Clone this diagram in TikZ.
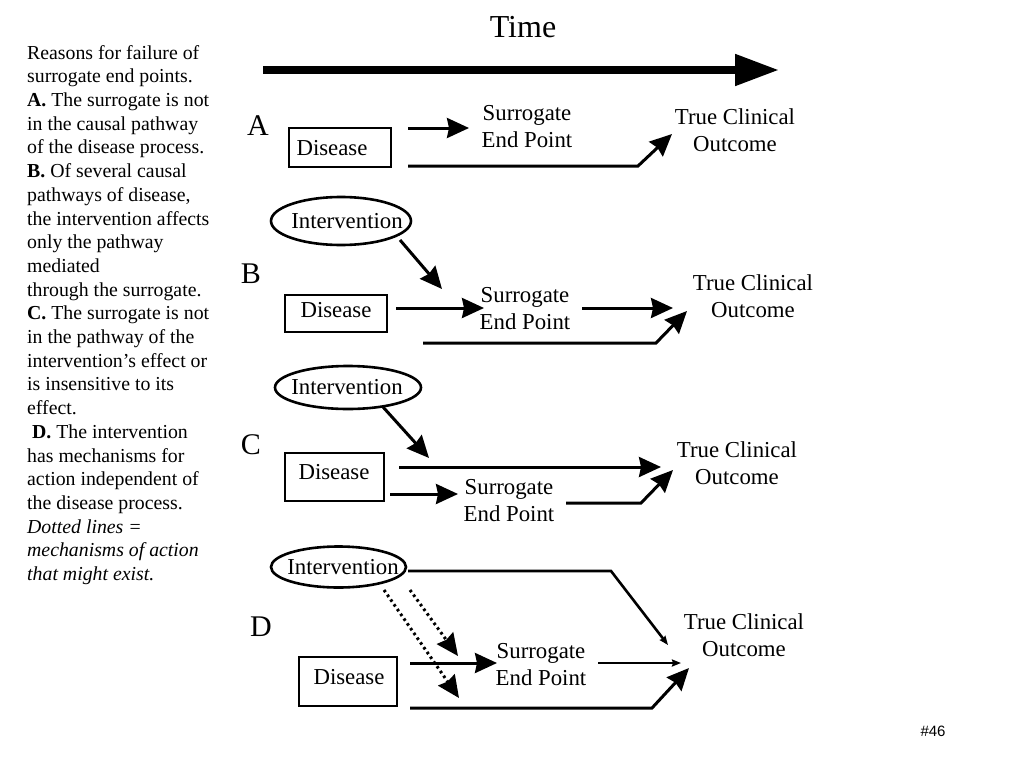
\documentclass[tikz,border=0pt]{standalone}
\usepackage{fontspec}
\setmainfont{Liberation Serif}
\newfontfamily\sansf{Liberation Sans}
\usetikzlibrary{arrows.meta,shapes.geometric}
\begin{document}
\begin{tikzpicture}[x=1pt,y=-1pt,
  lbl/.style={font=\fontsize{22.8}{27}\selectfont, align=center, inner sep=0},
  letter/.style={font=\fontsize{30}{30}\selectfont, inner sep=0},
  box/.style={draw, line width=2.6pt, inner sep=0},
  oval/.style={draw, ellipse, line width=2.6pt, inner sep=0},
  arr/.style={line width=3pt, -{Stealth[length=22pt,width=20pt,inset=2pt]}},
  thinarr/.style={line width=2.6pt, -{Stealth[length=9pt,width=7pt,inset=1pt]}},
  dotarr/.style={line width=3pt, dash pattern=on 2.6pt off 3.2pt, -{Stealth[length=22pt,width=20pt,inset=2pt]}},
]
\useasboundingbox (0,0) rectangle (1024,768);
\fill[white] (0,0) rectangle (1024,768);

% side text
\node[anchor=north west, inner sep=0, align=left, font=\fontsize{19.8}{23.7}\selectfont] (side) at (27,45) {%
Reasons for failure of\\
surrogate end points.\\
\textbf{A.} The surrogate is not\\
in the causal pathway\\
of the disease process.\\
\textbf{B.} Of several causal\\
pathways of disease,\\
the intervention affects\\
only the pathway\\
mediated\\
through the surrogate.\\
\textbf{C.} The surrogate is not\\
in the pathway of the\\
intervention’s effect or\\
is insensitive to its\\
effect.\\
\hspace*{5pt}\textbf{D.} The intervention\\
has mechanisms for\\
action independent of\\
the disease process.\\
\textit{Dotted lines =}\\
\textit{mechanisms of action}\\
\textit{that might exist.}};

% Time arrow
\node[font=\fontsize{32}{32}\selectfont, inner sep=0] (time) at (523,27) {Time};
\coordinate (t0) at (263,70);
\coordinate (t1) at (779,70);
\draw[line width=8pt, -{Triangle[length=44pt,width=30pt]}] (t0) -- (t1);

% ---------- Panel A ----------
\node[letter] (lA) at (258,126) {A};
\node[box, minimum width=102pt, minimum height=39pt] (dA) at (340,147.5) {};
\node[lbl] (dAt) at (332,148) {Disease};
\node[lbl] (sA) at (527,127) {Surrogate\\End Point};
\node[lbl] (oA) at (735,130) {True Clinical\\Outcome};
\coordinate (a1) at (408,128);
\coordinate (a2) at (469,128);
\draw[arr] (a1) -- (a2);
\coordinate (a3) at (408,166);
\coordinate (a4) at (638,166);
\coordinate (a5) at (672,134);
\draw[arr] (a3) -- (a4) -- (a5);

% ---------- Panel B ----------
\node[letter] (lB) at (251,274) {B};
\node[oval, minimum width=140pt, minimum height=48pt] (iB) at (341,221) {};
\node[lbl] (iBt) at (347,221) {Intervention};
\node[box, minimum width=102pt, minimum height=37pt] (dB) at (336,313.5) {};
\node[lbl] (dBt) at (336,310) {Disease};
\node[lbl] (sB) at (525,309) {Surrogate\\End Point};
\node[lbl] (oB) at (753,296) {True Clinical\\Outcome};
\coordinate (b0) at (400,240);
\coordinate (b00) at (442,289);
\draw[arr] (b0) -- (b00);
\coordinate (b1) at (396,308);
\coordinate (b2) at (484,308);
\draw[arr] (b1) -- (b2);
\coordinate (b3) at (582,308);
\coordinate (b4) at (673,308);
\draw[arr] (b3) -- (b4);
\coordinate (b5) at (423,343);
\coordinate (b6) at (656,343);
\coordinate (b7) at (687,311);
\draw[arr] (b5) -- (b6) -- (b7);

% ---------- Panel C ----------
\node[letter] (lC) at (251,445) {C};
\node[oval, minimum width=146pt, minimum height=43pt] (iC) at (348,387.5) {};
\node[lbl] (iCt) at (347,387) {Intervention};
\node[box, minimum width=99pt, minimum height=48pt] (dC) at (334.5,477) {};
\node[lbl] (dCt) at (334,472) {Disease};
\node[lbl] (sC) at (509,501) {Surrogate\\End Point};
\node[lbl] (oC) at (737,463) {True Clinical\\Outcome};
\coordinate (c0) at (383,407);
\coordinate (c00) at (429,458);
\draw[arr] (c0) -- (c00);
\coordinate (c1) at (399,467);
\coordinate (c2) at (661,467);
\draw[arr] (c1) -- (c2);
\coordinate (c3) at (390,494);
\coordinate (c4) at (458,494);
\draw[arr] (c3) -- (c4);
\coordinate (c5) at (566,503);
\coordinate (c6) at (641,503);
\coordinate (c7) at (673,470);
\draw[arr] (c5) -- (c6) -- (c7);

% ---------- Panel D ----------
\node[letter] (lD) at (261,627) {D};
\node[oval, minimum width=135pt, minimum height=41pt] (iD) at (338.5,567) {};
\node[lbl] (iDt) at (343,567) {Intervention};
\node[box, minimum width=98pt, minimum height=49pt] (dD) at (348,681.5) {};
\node[lbl] (dDt) at (349,677) {Disease};
\node[lbl] (sD) at (541,665) {Surrogate\\End Point};
\node[lbl] (oD) at (744,635) {True Clinical\\Outcome};
\coordinate (d0) at (408,571);
\coordinate (d01) at (611,571);
\coordinate (d02) at (668,645);
\draw[thinarr] (d0) -- (d01) -- (d02);
\coordinate (e1) at (384,590);
\coordinate (e2) at (459,698);
\draw[dotarr] (e1) -- (e2);
\coordinate (e3) at (410,590);
\coordinate (e4) at (458,656);
\draw[dotarr] (e3) -- (e4);
\coordinate (d1) at (410,663);
\coordinate (d2) at (497,663);
\draw[arr] (d1) -- (d2);
\coordinate (d3) at (598,663);
\coordinate (d4) at (681,663);
\draw[thinarr] (d3) -- (d4);
\coordinate (d5) at (410,708);
\coordinate (d6) at (652,708);
\coordinate (d7) at (689,668);
\draw[arr] (d5) -- (d6) -- (d7);

% page number
\node[font=\sansf\fontsize{15}{15}\selectfont, inner sep=0] (pg) at (933,731) {\#46};
\end{tikzpicture}
\end{document}
